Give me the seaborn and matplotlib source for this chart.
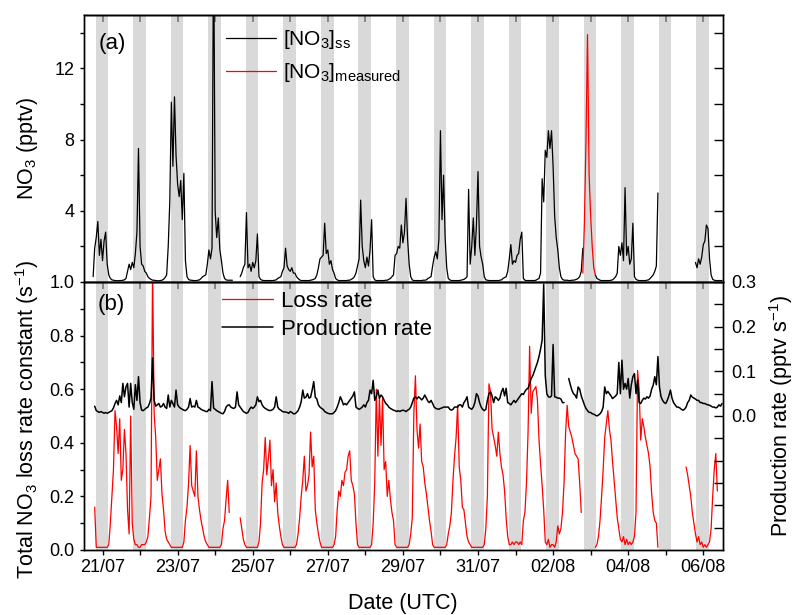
import numpy as np
import pandas as pd
import seaborn as sns
import matplotlib
matplotlib.use("Agg")
import matplotlib.pyplot as plt
import matplotlib.dates as mdates
from matplotlib.ticker import FixedLocator, FixedFormatter, FuncFormatter, NullFormatter

nan = np.nan

# hourly values, first value at 20/07 18:00 UTC
series_start = "2018-07-20 18:00"

no3_ss = [
    0.3, 1.9, 2.5, 3.4, 1.5, 2.4,  # 20/07
    1.2, 2.3, 2.8, 1.0, 0.4, 0.2, 0.12, 0.1, 0.08, 0.08, 0.07, 0.08, 0.08, 0.1, 0.12, 0.2, 0.6, 1.0, 0.7, 1.1, 0.8, 1.6, 2.8, 7.5,  # 21/07
    2.0, 1.0, 0.9, 0.6, 0.5, 0.3, 0.2, 0.15, 0.1, 0.1, 0.08, 0.07, 0.07, 0.08, 0.1, 0.15, 0.25, 0.4, 2.0, 4.5, 10.1, 6.5, 10.4, 7.1,  # 22/07
    5.5, 4.8, 5.7, 3.5, 6.1, 1.2, 0.3, 0.15, 0.1, 0.1, 0.08, 0.08, 0.08, 0.1, 0.12, 0.2, 0.3, 0.35, 0.4, 1.0, 1.8, 1.3, 1.9, 20.0,  # 23/07
    4.0, 2.5, 3.6, 1.8, 1.2, 0.5, 0.2, 0.12, 0.1, 0.1, 0.1, 0.1, nan, nan, nan, nan, 0.3, 0.5, 0.8, 1.0, 3.9, 0.8, 1.0, 0.6,  # 24/07
    1.1, 0.8, 1.2, 2.7, 0.3, 0.15, 0.1, 0.08, 0.08, 0.08, 0.08, 0.08, 0.08, 0.08, 0.1, 0.12, 0.2, 0.25, 0.3, 0.6, 0.8, 1.9, 0.9, 0.7,  # 25/07
    0.6, 0.8, 0.5, 0.5, 0.3, 0.2, 0.12, 0.08, 0.08, 0.08, 0.08, 0.08, 0.08, 0.1, 0.12, 0.15, 0.2, 0.4, 0.8, 1.3, 1.4, 1.5, 3.3, 1.6,  # 26/07
    1.8, 1.0, 1.2, 0.7, 0.5, 0.2, 0.12, 0.08, 0.08, 0.08, 0.08, 0.08, 0.08, 0.1, 0.1, 0.15, 0.2, 0.3, 0.5, 0.9, 1.3, 4.6, 2.0, 1.2,  # 27/07
    0.8, 1.4, 0.9, 1.8, 3.5, 0.3, 0.12, 0.08, 0.08, 0.08, 0.08, 0.08, 0.08, 0.1, 0.1, 0.15, 0.2, 0.3, 0.4, 1.5, 1.6, 2.0, 1.9, 3.2,  # 28/07
    2.2, 2.8, 4.7, 2.4, 1.0, 0.3, 0.12, 0.08, 0.08, 0.08, 0.08, 0.08, 0.08, 0.1, 0.1, 0.12, 0.2, 0.25, 0.3, 0.9, 1.4, 1.7, 1.3, 2.4,  # 29/07
    8.5, 3.5, 6.0, 2.5, 0.8, 0.2, 0.12, 0.08, 0.08, 0.08, 0.08, 0.08, 0.08, 0.1, 0.12, 0.15, 0.2, 0.3, 5.2, 1.0, 2.0, 3.6, 1.5, 3.2,  # 30/07
    6.2, 2.0, 1.4, 1.0, 0.3, 0.12, 0.1, 0.08, 0.08, 0.08, 0.08, 0.08, 0.08, 0.08, 0.1, 0.12, 0.2, 0.25, 0.3, 0.6, 1.3, 2.1, 1.0, 1.2,  # 31/07
    1.1, 1.5, 1.6, 2.4, 2.8, 0.2, 0.1, 0.08, 0.08, 0.08, 0.08, 0.08, 0.08, 0.1, 0.15, 0.2, 0.5, 5.8, 4.5, 7.4, 7.0, 8.5, 7.5, 8.5,  # 01/08
    6.5, 3.7, 2.5, 1.8, 0.8, 0.3, 0.15, 0.1, 0.1, 0.1, 0.08, 0.08, 0.1, 0.1, 0.12, 0.15, 0.2, 0.3, 0.6, 1.9, nan, nan, nan, nan,  # 02/08
    nan, nan, nan, 0.4, 0.2, 0.15, 0.1, 0.08, 0.08, 0.08, 0.08, 0.08, 0.08, 0.1, 0.12, 0.2, 0.3, 0.5, 2.0, 1.5, 2.2, 1.2, 5.3, 1.5,  # 03/08
    2.0, 1.0, 1.3, 3.3, 0.3, 0.15, 0.1, 0.08, 0.08, 0.08, 0.08, 0.08, 0.1, 0.12, 0.2, 0.3, 0.4, 0.6, 0.9, 5.0, nan, nan, nan, nan,  # 04/08
    nan, nan, nan, nan, nan, nan, nan, nan, nan, nan, nan, nan, nan, nan, nan, nan, nan, nan, nan, 1.1, 0.8, 1.3, 1.0, 1.4,  # 05/08
    2.1, 2.3, 3.2, 3.0, 1.3, 0.4, 0.15, 0.1, 0.08, 0.08, 0.08, 0.08, 0.08,  # 06/08
]

no3_measured_start = "2018-08-02 19:00"
no3_measured = [0.5, 3.3, 7.8, 13.9, 6.1, 3.7, 2.0, 0.8, 0.4]

loss_rate = [
    nan, 0.16, 0.01, 0.01, 0.01, 0.01,  # 20/07
    0.01, 0.01, 0.01, 0.01, 0.02, 0.10, 0.20, 0.30, 0.52, 0.46, 0.36, 0.49, 0.26, 0.30, 0.45, 0.36, 0.15, 0.06, 0.50, 0.10, 0.04, 0.02, 0.02, 0.01,  # 21/07
    0.01, 0.02, 0.02, 0.02, 0.03, 0.05, 0.12, 0.20, 1.05, 0.51, 0.42, 0.26, 0.30, 0.34, 0.21, 0.15, 0.07, 0.04, 0.03, 0.02, 0.01, 0.01, 0.01, 0.01,  # 22/07
    0.01, 0.01, 0.01, 0.01, 0.03, 0.11, 0.16, 0.25, 0.39, 0.24, 0.22, 0.20, 0.37, 0.20, 0.15, 0.11, 0.08, 0.05, 0.03, 0.02, 0.01, 0.01, 0.01, 0.01,  # 23/07
    0.01, 0.01, 0.01, 0.01, 0.02, 0.08, 0.11, 0.19, 0.26, 0.14, nan, nan, nan, nan, nan, nan, 0.12, 0.08, 0.04, 0.02, 0.01, 0.01, 0.01, 0.01,  # 24/07
    0.01, 0.01, 0.01, 0.01, 0.03, 0.10, 0.25, 0.30, 0.42, 0.28, 0.34, 0.41, 0.24, 0.30, 0.18, 0.25, 0.14, 0.09, 0.05, 0.02, 0.01, 0.01, 0.01, 0.01,  # 25/07
    0.01, 0.01, 0.01, 0.01, 0.02, 0.06, 0.12, 0.20, 0.26, 0.35, 0.22, 0.24, 0.28, 0.44, 0.31, 0.35, 0.15, 0.10, 0.06, 0.03, 0.01, 0.01, 0.01, 0.01,  # 26/07
    0.01, 0.01, 0.01, 0.01, 0.02, 0.05, 0.15, 0.22, 0.20, 0.26, 0.24, 0.29, 0.30, 0.35, 0.37, 0.26, 0.24, 0.21, 0.10, 0.02, 0.01, 0.01, 0.01, 0.01,  # 27/07
    0.01, 0.01, 0.01, 0.01, 0.02, 0.10, 0.25, 0.60, 0.35, 0.57, 0.39, 0.57, 0.30, 0.33, 0.20, 0.26, 0.19, 0.14, 0.11, 0.02, 0.01, 0.01, 0.01, 0.01,  # 28/07
    0.01, 0.01, 0.01, 0.01, 0.02, 0.06, 0.12, 0.51, 0.65, 0.45, 0.38, 0.47, 0.33, 0.31, 0.25, 0.21, 0.16, 0.11, 0.07, 0.02, 0.01, 0.01, 0.01, 0.01,  # 29/07
    0.01, 0.01, 0.01, 0.01, 0.02, 0.06, 0.09, 0.14, 0.26, 0.35, 0.42, 0.54, 0.31, 0.26, 0.16, 0.15, 0.10, 0.05, 0.03, 0.02, 0.01, 0.01, 0.01, 0.01,  # 30/07
    0.01, 0.01, 0.01, 0.01, 0.02, 0.08, 0.20, 0.62, 0.59, 0.45, 0.42, 0.39, 0.35, 0.44, 0.36, 0.31, 0.28, 0.22, 0.12, 0.05, 0.02, 0.02, 0.03, 0.02,  # 31/07
    0.03, 0.03, 0.02, 0.03, 0.02, 0.11, 0.14, 0.25, 0.44, 0.76, 0.51, 0.59, 0.60, 0.61, 0.56, 0.41, 0.32, 0.24, 0.15, 0.03, 0.02, 0.04, 0.01, 0.02,  # 01/08
    0.02, 0.01, 0.03, 0.09, 0.06, 0.08, 0.14, 0.25, 0.44, 0.54, 0.46, 0.44, 0.42, 0.39, 0.36, 0.35, 0.34, 0.25, 0.14, nan, nan, nan, nan, nan,  # 02/08
    nan, nan, nan, 0.01, 0.02, 0.05, 0.11, 0.20, 0.30, 0.42, 0.47, 0.52, 0.45, 0.41, 0.33, 0.26, 0.19, 0.12, 0.08, 0.04, 0.03, 0.05, 0.02, 0.04,  # 03/08
    0.02, 0.03, 0.02, 0.03, 0.05, 0.14, 0.67, 0.60, 0.41, 0.49, 0.46, 0.42, 0.39, 0.36, 0.31, 0.21, 0.14, 0.11, 0.10, 0.01, nan, nan, nan, nan,  # 04/08
    nan, nan, nan, nan, nan, nan, nan, nan, nan, nan, nan, nan, nan, 0.31, 0.28, 0.24, 0.20, 0.14, 0.10, 0.06, 0.03, 0.05, 0.02, 0.03,  # 05/08
    0.01, 0.02, 0.01, 0.02, 0.03, 0.08, 0.20, 0.30, 0.36, 0.22, nan, nan, nan,  # 06/08
]

production_rate = [
    nan, 0.022, 0.012, 0.01, 0.008, 0.01,  # 20/07
    0.008, 0.006, 0.008, 0.006, 0.008, 0.01, 0.012, 0.018, 0.028, 0.035, 0.025, 0.045, 0.03, 0.073, 0.043, 0.065, 0.073, 0.02, 0.073, 0.03, 0.015, 0.07, 0.035, 0.088,  # 21/07
    0.03, 0.013, 0.012, 0.015, 0.018, 0.02, 0.028, 0.04, 0.13, 0.035, 0.022, 0.025, 0.028, 0.02, 0.022, 0.028, 0.02, 0.017, 0.047, 0.02, 0.035, 0.028, 0.02, 0.058,  # 22/07
    0.025, 0.02, 0.017, 0.015, 0.013, 0.012, 0.015, 0.02, 0.039, 0.02, 0.022, 0.02, 0.035, 0.02, 0.018, 0.015, 0.013, 0.012, 0.01, 0.01, 0.015, 0.012, 0.077, 0.018,  # 23/07
    0.015, 0.012, 0.01, 0.008, 0.006, 0.005, 0.01, 0.02, 0.024, 0.025, 0.02, 0.018, 0.017, 0.02, 0.054, 0.025, 0.02, 0.015, 0.01, 0.008, 0.006, 0.008, 0.015, 0.02,  # 24/07
    0.017, 0.02, 0.025, 0.043, 0.032, 0.035, 0.025, 0.02, 0.017, 0.015, 0.013, 0.012, 0.013, 0.015, 0.02, 0.043, 0.02, 0.015, 0.013, 0.01, 0.009, 0.009, 0.008, 0.006,  # 25/07
    0.01, 0.008, 0.005, 0.005, 0.008, 0.012, 0.02, 0.032, 0.058, 0.04, 0.042, 0.05, 0.04, 0.042, 0.058, 0.077, 0.042, 0.038, 0.025, 0.02, 0.017, 0.015, 0.01, 0.008,  # 26/07
    0.006, 0.005, 0.005, 0.005, 0.008, 0.012, 0.02, 0.03, 0.043, 0.035, 0.025, 0.028, 0.025, 0.03, 0.035, 0.04, 0.045, 0.054, 0.02, 0.017, 0.015, 0.017, 0.02, 0.025,  # 27/07
    0.02, 0.03, 0.035, 0.058, 0.05, 0.08, 0.035, 0.043, 0.058, 0.04, 0.047, 0.043, 0.035, 0.028, 0.025, 0.02, 0.017, 0.015, 0.013, 0.012, 0.01, 0.012, 0.01, 0.012,  # 28/07
    0.013, 0.012, 0.01, 0.013, 0.015, 0.02, 0.03, 0.04, 0.043, 0.038, 0.043, 0.04, 0.036, 0.04, 0.047, 0.04, 0.033, 0.03, 0.035, 0.028, 0.02, 0.017, 0.016, 0.015,  # 29/07
    0.017, 0.018, 0.02, 0.02, 0.02, 0.02, 0.015, 0.013, 0.015, 0.02, 0.02, 0.02, 0.025, 0.025, 0.02, 0.03, 0.035, 0.043, 0.02, 0.017, 0.015, 0.02, 0.03, 0.05,  # 30/07
    0.045, 0.03, 0.02, 0.015, 0.012, 0.015, 0.035, 0.05, 0.054, 0.045, 0.03, 0.043, 0.04, 0.035, 0.04, 0.054, 0.062, 0.045, 0.062, 0.03, 0.028, 0.025, 0.03, 0.035,  # 31/07
    0.03, 0.035, 0.04, 0.045, 0.05, 0.048, 0.055, 0.06, 0.062, 0.073, 0.084, 0.09, 0.1, 0.11, 0.12, 0.133, 0.15, 0.17, 0.295, 0.09, 0.05, 0.043, 0.042, 0.045,  # 01/08
    0.16, 0.043, 0.042, 0.04, 0.04, 0.038, 0.03, 0.03, nan, nan, 0.084, 0.07, 0.058, 0.05, 0.047, 0.04, 0.065, 0.06, 0.045, 0.035, 0.025, 0.017, 0.012, 0.008,  # 02/08
    0.008, 0.005, 0.004, 0.002, 0.0, 0.002, 0.005, 0.01, 0.02, 0.065, 0.05, 0.055, 0.05, 0.045, 0.039, 0.042, 0.045, 0.05, 0.12, 0.05, 0.125, 0.06, 0.073, 0.06,  # 03/08
    0.084, 0.04, 0.07, 0.088, 0.095, 0.05, 0.08, 0.03, 0.028, 0.035, 0.04, 0.038, 0.043, 0.04, 0.045, 0.06, 0.069, 0.088, 0.07, 0.133, 0.065, 0.043, 0.035, 0.03,  # 04/08
    0.028, 0.035, 0.045, 0.058, 0.04, 0.03, 0.025, 0.02, 0.02, 0.018, 0.015, 0.013, 0.015, 0.02, 0.03, 0.035, 0.047, 0.042, 0.04, 0.038, 0.035, 0.035, 0.03, 0.03,  # 05/08
    0.028, 0.028, 0.026, 0.025, 0.024, 0.022, 0.02, 0.02, 0.018, 0.02, 0.025, 0.022, 0.028,  # 06/08
]

# night time shading (sunset -> sunrise, UTC)
night_dates = ["2018-07-20", "2018-07-21", "2018-07-22", "2018-07-23", "2018-07-24", "2018-07-25",
               "2018-07-26", "2018-07-27", "2018-07-28", "2018-07-29", "2018-07-30", "2018-07-31",
               "2018-08-01", "2018-08-02", "2018-08-03", "2018-08-04", "2018-08-05"]
sunset = "19:35"
sunrise = "03:40"

tick_dates = ["2018-07-21", "2018-07-23", "2018-07-25", "2018-07-27", "2018-07-29",
              "2018-07-31", "2018-08-02", "2018-08-04", "2018-08-06"]
tick_labels = ["21/07", "23/07", "25/07", "27/07", "29/07", "31/07", "02/08", "04/08", "06/08"]


def to_frame(values, t0):
    t = pd.date_range(t0, periods=len(values), freq="h")
    df = pd.DataFrame({"time": t, "value": values})
    # split at gaps so lines are not joined across missing data
    df["seg"] = df["value"].isna().cumsum()
    return df.dropna()


def draw(ax, df, color, lw, label):
    sns.lineplot(data=df, x="time", y="value", units="seg", estimator=None,
                 color=color, lw=lw, ax=ax, label=label, legend=False)


sns.set_style("ticks")
plt.rcParams["font.family"] = ["Liberation Sans", "DejaVu Sans"]
plt.rcParams["mathtext.fontset"] = "custom"
plt.rcParams["mathtext.rm"] = "Liberation Sans"
plt.rcParams["mathtext.it"] = "Liberation Sans:italic"
plt.rcParams["mathtext.default"] = "regular"
for key in ("text.color", "axes.labelcolor", "xtick.color", "ytick.color", "axes.edgecolor"):
    plt.rcParams[key] = "black"

fig = plt.figure(figsize=(7.95, 6.15), dpi=100)
ax1 = fig.add_axes([84 / 795, 1 - 282 / 615, 639 / 795, 267 / 615])
ax2 = fig.add_axes([84 / 795, 1 - 550 / 615, 639 / 795, 268 / 615], sharex=ax1)

for ax in (ax1, ax2):
    for d in night_dates:
        ax.axvspan(pd.Timestamp(f"{d} {sunset}"),
                   pd.Timestamp(f"{d} {sunrise}") + pd.Timedelta(days=1),
                   color="#d9d9d9", lw=0, zorder=0)

# (a) NO3
draw(ax1, to_frame(no3_ss, series_start), "black", 0.9, r"[NO$_3$]$_{ss}$")
draw(ax1, to_frame(no3_measured, no3_measured_start), "#ff0000", 0.9, r"[NO$_3$]$_{measured}$")
ax1.set_ylim(0, 15)
ax1.yaxis.set_major_locator(FixedLocator([4, 8, 12]))
ax1.yaxis.set_minor_locator(FixedLocator([2, 6, 10, 14]))
ax1.tick_params(axis="y", which="both", direction="out", length=3, width=1, labelsize=13, pad=4)
ax1.tick_params(axis="x", which="both", bottom=False, labelbottom=False)
ax1.set_xlabel("")
ax1.set_ylabel("")

ax1r = ax1.twinx()
ax1r.set_ylim(0, 15)
ax1r.yaxis.set_major_locator(FixedLocator([2, 4, 6, 8, 10, 12, 14]))
ax1r.tick_params(axis="y", direction="in", length=6.5, width=1, labelright=False)

# (b) loss and production rates
draw(ax2, to_frame(loss_rate, series_start), "#ff0000", 0.9, "Loss rate")
ax2.set_ylim(0, 1.0)
ax2.yaxis.set_major_locator(FixedLocator([0, 0.2, 0.4, 0.6, 0.8, 1.0]))
ax2.yaxis.set_minor_locator(FixedLocator([0.1, 0.3, 0.5, 0.7, 0.9]))
ax2.yaxis.set_major_formatter(FuncFormatter(lambda v, p: f"{v:.1f}"))
ax2.tick_params(axis="y", which="both", direction="out", length=3, width=1, labelsize=13, pad=4)
ax2.set_xlabel("")
ax2.set_ylabel("")

ax2r = ax2.twinx()
draw(ax2r, to_frame(production_rate, series_start), "black", 1.1, "Production rate")
ax2r.set_ylim(-0.3, 0.3)
ax2r.yaxis.set_major_locator(FixedLocator([-0.2, -0.1, 0.0, 0.1, 0.2, 0.3]))
ax2r.yaxis.set_minor_locator(FixedLocator([-0.25, -0.15, -0.05, 0.05, 0.15, 0.25]))
ax2r.yaxis.set_major_formatter(FuncFormatter(lambda v, p: f"{abs(v):.1f}" if v > -0.01 else ""))
ax2r.tick_params(axis="y", which="both", direction="in", length=6.5, width=1, labelsize=13, pad=6)
ax2r.set_xlabel("")
ax2r.set_ylabel("")

days = pd.date_range("2018-07-21", "2018-08-06", freq="D")
ax2.xaxis.set_major_locator(FixedLocator(mdates.date2num(pd.to_datetime(tick_dates))))
ax2.xaxis.set_major_formatter(FixedFormatter(tick_labels))
ax2.xaxis.set_minor_locator(FixedLocator(mdates.date2num(days)))
ax2.tick_params(axis="x", which="both", direction="out", length=3.5, width=1, labelsize=13, pad=3)
ax2.set_xlim(pd.Timestamp("2018-07-20 12:10"), pd.Timestamp("2018-08-06 12:36"))

# grey day ticks along the top of both panels
for ax in (ax1, ax2):
    sec = ax.secondary_xaxis("top")
    sec.xaxis.set_major_locator(FixedLocator(mdates.date2num(days)))
    sec.xaxis.set_major_formatter(NullFormatter())
    sec.tick_params(direction="in", length=5, width=1.3, color="#7f7f7f")
    sec.spines["top"].set_linewidth(1.0)

for ax in (ax1, ax2, ax1r, ax2r):
    for s in ax.spines.values():
        s.set_linewidth(1.0)
        s.set_color("black")

# legends
h, l = ax1.get_legend_handles_labels()
leg_a = dict(zip(l, h))
ax1.legend(leg_a.values(), leg_a.keys(), loc="upper left", frameon=False, fontsize=15,
           bbox_to_anchor=(226 / 795, 1 - 28 / 615), bbox_transform=fig.transFigure,
           borderaxespad=0, borderpad=0, handlelength=2.4, handletextpad=0.35, labelspacing=0.5)

h2, l2 = ax2.get_legend_handles_labels()
h3, l3 = ax2r.get_legend_handles_labels()
leg_b = dict(zip(l2 + l3, h2 + h3))
ax2r.legend(leg_b.values(), leg_b.keys(), loc="upper left", frameon=False, fontsize=16,
            bbox_to_anchor=(222 / 795, 1 - 291 / 615), bbox_transform=fig.transFigure,
            borderaxespad=0, borderpad=0, handlelength=2.3, handletextpad=0.35, labelspacing=0.3)

fig.text(99 / 795, 1 - 43.5 / 615, "(a)", fontsize=16, va="center")
fig.text(98 / 795, 1 - 305 / 615, "(b)", fontsize=16, va="center")

fig.text(27 / 795, 1 - 148.5 / 615, r"NO$_3$ (pptv)", rotation=90, fontsize=15.5, ha="center", va="center")
fig.text(27 / 795, 1 - 419 / 615, r"Total NO$_3$ loss rate constant (s$^{-1}$)", rotation=90,
         fontsize=15.5, ha="center", va="center")
fig.text(781 / 795, 1 - 416 / 615, r"Production rate (pptv s$^{-1}$)", rotation=90,
         fontsize=15.5, ha="center", va="center")
fig.text(403 / 795, 1 - 603 / 615, "Date (UTC)", fontsize=15.5, ha="center", va="center")

fig.savefig("out.png", dpi=100)
